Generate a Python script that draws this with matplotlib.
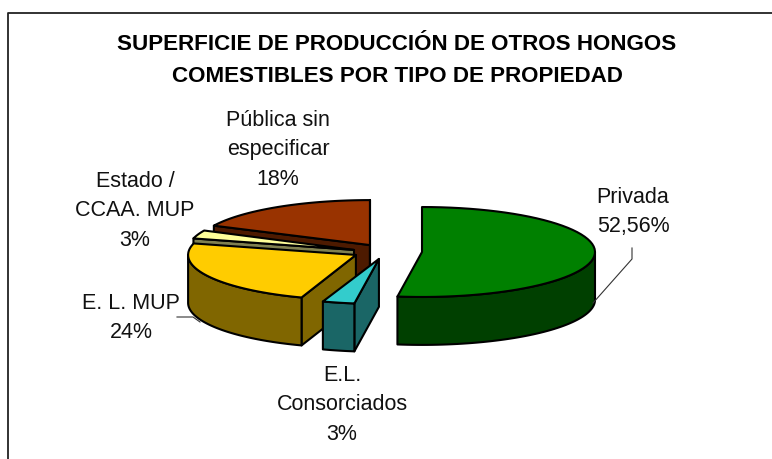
import numpy as np
import matplotlib
matplotlib.use("Agg")
import matplotlib.pyplot as plt
from matplotlib.patches import Polygon

plt.rcParams['font.family'] = ['Liberation Sans', 'DejaVu Sans']

# Data
categories = ['Privada', 'E.L.\nConsorciados', 'E. L. MUP', 'Estado /\nCCAA. MUP', 'Pública sin\nespecificar']
values = [52.56, 3, 24, 3, 18]
value_labels = ['52,56%', '3%', '24%', '3%', '18%']
title = 'SUPERFICIE DE PRODUCCIÓN DE OTROS HONGOS\nCOMESTIBLES POR TIPO DE PROPIEDAD'

# Style
top_colors = ['#008000', '#33CCCC', '#FFCC00', '#FFFF99', '#993300']
side_colors = ['#004000', '#1A6666', '#806600', '#808050', '#4D1A00']
explode = [(0, 0), (-0.249, -0.040), (-0.382, -0.017), (-0.393, 0.012), (-0.301, 0.040)]
radius_x = [1.0, 1.0, 0.97, 0.96, 1.0]
tilt = 0.26
depth = 0.277
label_px = [(633, 212), (342, 405), (131, 318), (135, 211), (278, 150)]

W, H = 772, 459
cx, cy, unit = 422, 252, 173
fig = plt.figure(figsize=(W / 100, H / 100), dpi=100)
ax = fig.add_axes([0, 0, 1, 1])
ax.set_xlim(-cx / unit, (W - cx) / unit)
ax.set_ylim((cy - H) / unit, cy / unit)
ax.axis('off')


def rim(t0, t1, ox, oy, rx):
    t = np.radians(np.linspace(t0, t1, 60))
    return ox + rx * np.sin(t), oy + tilt * np.cos(t)


def poly(x, y, color, z):
    ax.add_patch(Polygon(np.column_stack([x, y]), closed=True, facecolor=color,
                         edgecolor='black', linewidth=1.5, joinstyle='round', zorder=z))


def radial_face(t, ox, oy, rx, color, z):
    a = np.radians(t)
    x = np.array([ox, ox + rx * np.sin(a), ox + rx * np.sin(a), ox])
    y = np.array([oy, oy + tilt * np.cos(a), oy + tilt * np.cos(a) - depth, oy - depth])
    poly(x, y, color, z)


angles = np.concatenate([[0], np.cumsum(values) / sum(values) * 360])
paint_order = [4, 3, 2, 1, 0]
for n, i in enumerate(paint_order):
    t0, t1 = angles[i], angles[i + 1]
    ox, oy = explode[i]
    rx = radius_x[i]
    z = n * 10 + 1
    # cut faces that look towards the viewer
    if np.sin(np.radians(t0)) < -1e-9:
        radial_face(t0, ox, oy, rx, side_colors[i], z)
    if np.sin(np.radians(t1)) > -1e-9:
        radial_face(t1, ox, oy, rx, side_colors[i], z)
    # outer wall on the front half
    a, b = max(t0, 90), min(t1, 270)
    if b > a:
        xr, yr = rim(a, b, ox, oy, rx)
        poly(np.concatenate([xr, xr[::-1]]), np.concatenate([yr, yr[::-1] - depth]),
             side_colors[i], z + 1)
    # top
    xr, yr = rim(t0, t1, ox, oy, rx)
    poly(np.concatenate([[ox], xr]), np.concatenate([[oy], yr]), top_colors[i], z + 2)


def px(x, y):
    return (x - cx) / unit, (cy - y) / unit


for name, val, (lx, ly) in zip(categories, value_labels, label_px):
    x, y = px(lx, ly)
    ax.text(x, y, name + '\n' + val, ha='center', va='center', fontsize=15.5,
            linespacing=1.56, color='#111111', zorder=100)

x, y = px(397, 60.5)
ax.text(x, y, title, ha='center', va='center', fontsize=16.1, fontweight='bold',
        linespacing=1.75, color='black', zorder=100)

for pts in ([(632, 248), (632, 259), (593, 303)], [(177, 317), (193, 317), (200, 322)]):
    xy = np.array([px(*p) for p in pts])
    ax.plot(xy[:, 0], xy[:, 1], color='#333333', lw=0.8, zorder=99)

frame = np.array([px(*p) for p in [(7.5, 459), (7.5, 13), (772, 13)]])
ax.plot(frame[:, 0], frame[:, 1], color='#222222', lw=1.3, zorder=98, clip_on=False)

fig.savefig('out.png', dpi=100)
